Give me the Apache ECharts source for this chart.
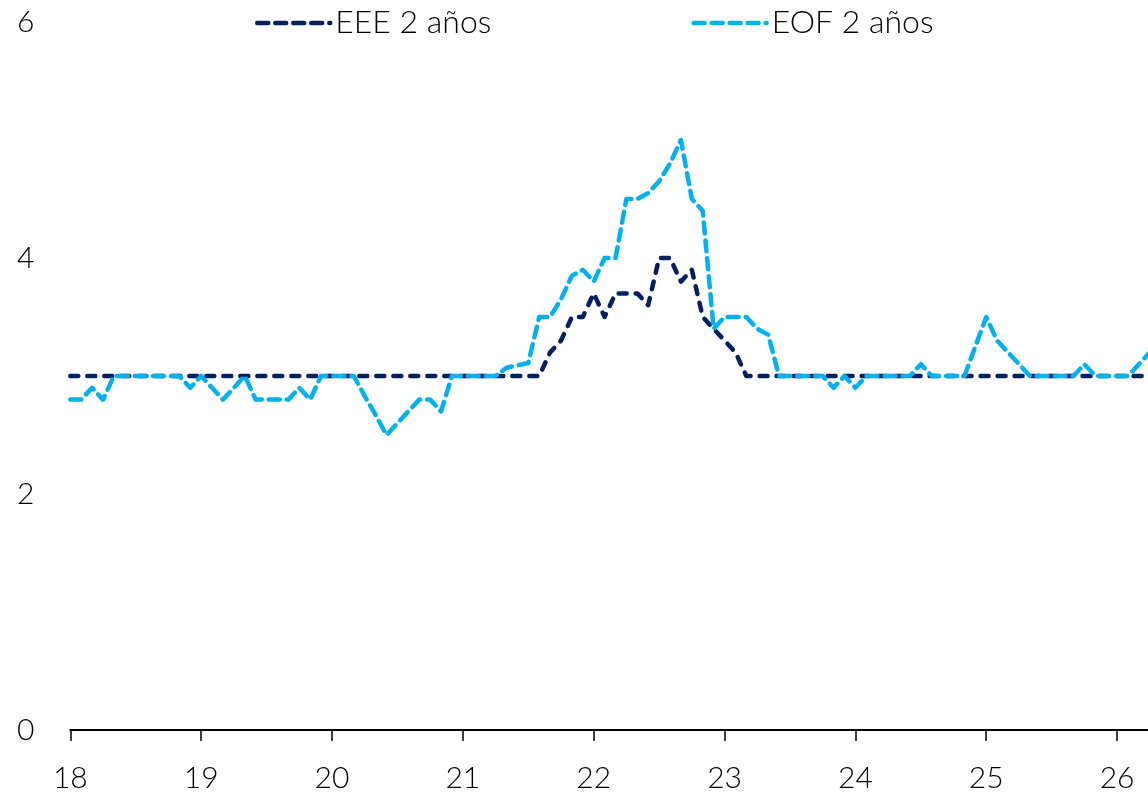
<!DOCTYPE html>
<html>
<head>
<meta charset="utf-8">
<script src="https://cdn.jsdelivr.net/npm/echarts@6/dist/echarts.min.js"></script>
<style>
html,body{margin:0;padding:0;background:#fff;}
#chart{width:1148px;height:794px;}
</style>
</head>
<body>
<div id="chart"></div>
<script>
// Monthly observations, Jan 2018 onward (x expressed in years, 18 = 2018)
const startYear = 18;
const seriesNames = ['EEE 2 años', 'EOF 2 años'];
const eee = [
  3.0,3.0,3.0,3.0,3.0,3.0,3.0,3.0,3.0,3.0,3.0,3.0,
  3.0,3.0,3.0,3.0,3.0,3.0,3.0,3.0,3.0,3.0,3.0,3.0,
  3.0,3.0,3.0,3.0,3.0,3.0,3.0,3.0,3.0,3.0,3.0,3.0,
  3.0,3.0,3.0,3.0,3.0,3.0,3.0,3.0,3.2,3.3,3.5,3.5,
  3.7,3.5,3.7,3.7,3.7,3.6,4.0,4.0,3.8,3.9,3.5,3.4,
  3.3,3.2,3.0,3.0,3.0,3.0,3.0,3.0,3.0,3.0,3.0,3.0,
  3.0,3.0,3.0,3.0,3.0,3.0,3.0,3.0,3.0,3.0,3.0,3.0,
  3.0,3.0,3.0,3.0,3.0,3.0,3.0,3.0,3.0,3.0,3.0,3.0,
  3.0,3.0,3.0,3.0
];
const eof = [
  2.8,2.8,2.9,2.8,3.0,3.0,3.0,3.0,3.0,3.0,3.0,2.9,
  3.0,2.9,2.8,2.9,3.0,2.8,2.8,2.8,2.8,2.9,2.8,3.0,
  3.0,3.0,3.0,2.83,2.67,2.5,2.6,2.7,2.8,2.8,2.7,3.0,
  3.0,3.0,3.0,3.0,3.07,3.09,3.11,3.5,3.5,3.65,3.85,3.9,
  3.8,4.0,4.0,4.5,4.5,4.55,4.65,4.8,5.0,4.5,4.4,3.4,
  3.5,3.5,3.5,3.4,3.35,3.0,3.0,3.0,3.0,3.0,2.9,3.0,
  2.9,3.0,3.0,3.0,3.0,3.0,3.1,3.0,3.0,3.0,3.0,3.25,
  3.5,3.3,3.2,3.1,3.0,3.0,3.0,3.0,3.0,3.1,3.0,3.0,
  3.0,3.0,3.1,3.2
];
const yTicks = [0, 2, 4, 6];
const xTickYears = [18, 19, 20, 21, 22, 23, 24, 25, 26];

const toPairs = arr => arr.map((v, i) => [startYear + i / 12, v]);

const FONT = 'Lato';
const chart = echarts.init(document.getElementById('chart'), null, {renderer: 'canvas'});
chart.setOption({
  animation: false,
  backgroundColor: '#ffffff',
  grid: {left: 70.3, right: 0, top: 22, bottom: 64, containLabel: false},
  legend: {
    left: 250, top: 2,
    itemWidth: 73, itemHeight: 5, itemGap: 200,
    lineStyle: {width: 4.5, type: [11, 7], cap: 'round'},
    textStyle: {fontFamily: FONT, fontSize: 32, color: '#000', fontWeight: 300},
    data: seriesNames
  },
  xAxis: {
    type: 'value',
    min: 18, max: 18 + (1148 - 70.3) / 130.85,
    interval: 1,
    axisLine: {show: true, lineStyle: {color: '#000', width: 2}},
    axisTick: {show: true, length: 11, customValues: xTickYears, lineStyle: {color: '#000', width: 1.5}},
    splitLine: {show: false},
    axisLabel: {
      fontFamily: FONT, fontSize: 30, color: '#000', fontWeight: 300, margin: 33,
      customValues: xTickYears,
      formatter: v => String(v)
    }
  },
  yAxis: {
    type: 'value', min: 0, max: 6, interval: 2,
    axisLine: {show: false}, axisTick: {show: false}, splitLine: {show: false},
    axisLabel: {
      fontFamily: FONT, fontSize: 30, color: '#000', fontWeight: 300, margin: 36,
      formatter: v => yTicks.includes(v) ? String(v) : ''
    }
  },
  series: [
    {
      name: seriesNames[0], type: 'line', data: toPairs(eee), symbol: 'none', z: 3,
      lineStyle: {color: '#002060', width: 4.5, type: [8, 9], cap: 'round', join: 'round'},
      itemStyle: {color: '#002060'}
    },
    {
      name: seriesNames[1], type: 'line', data: toPairs(eof), symbol: 'none', z: 4,
      lineStyle: {color: '#00B0F0', width: 4.5, type: [11, 7], cap: 'round', join: 'round'},
      itemStyle: {color: '#00B0F0'}
    }
  ]
});
</script>
</body>
</html>
